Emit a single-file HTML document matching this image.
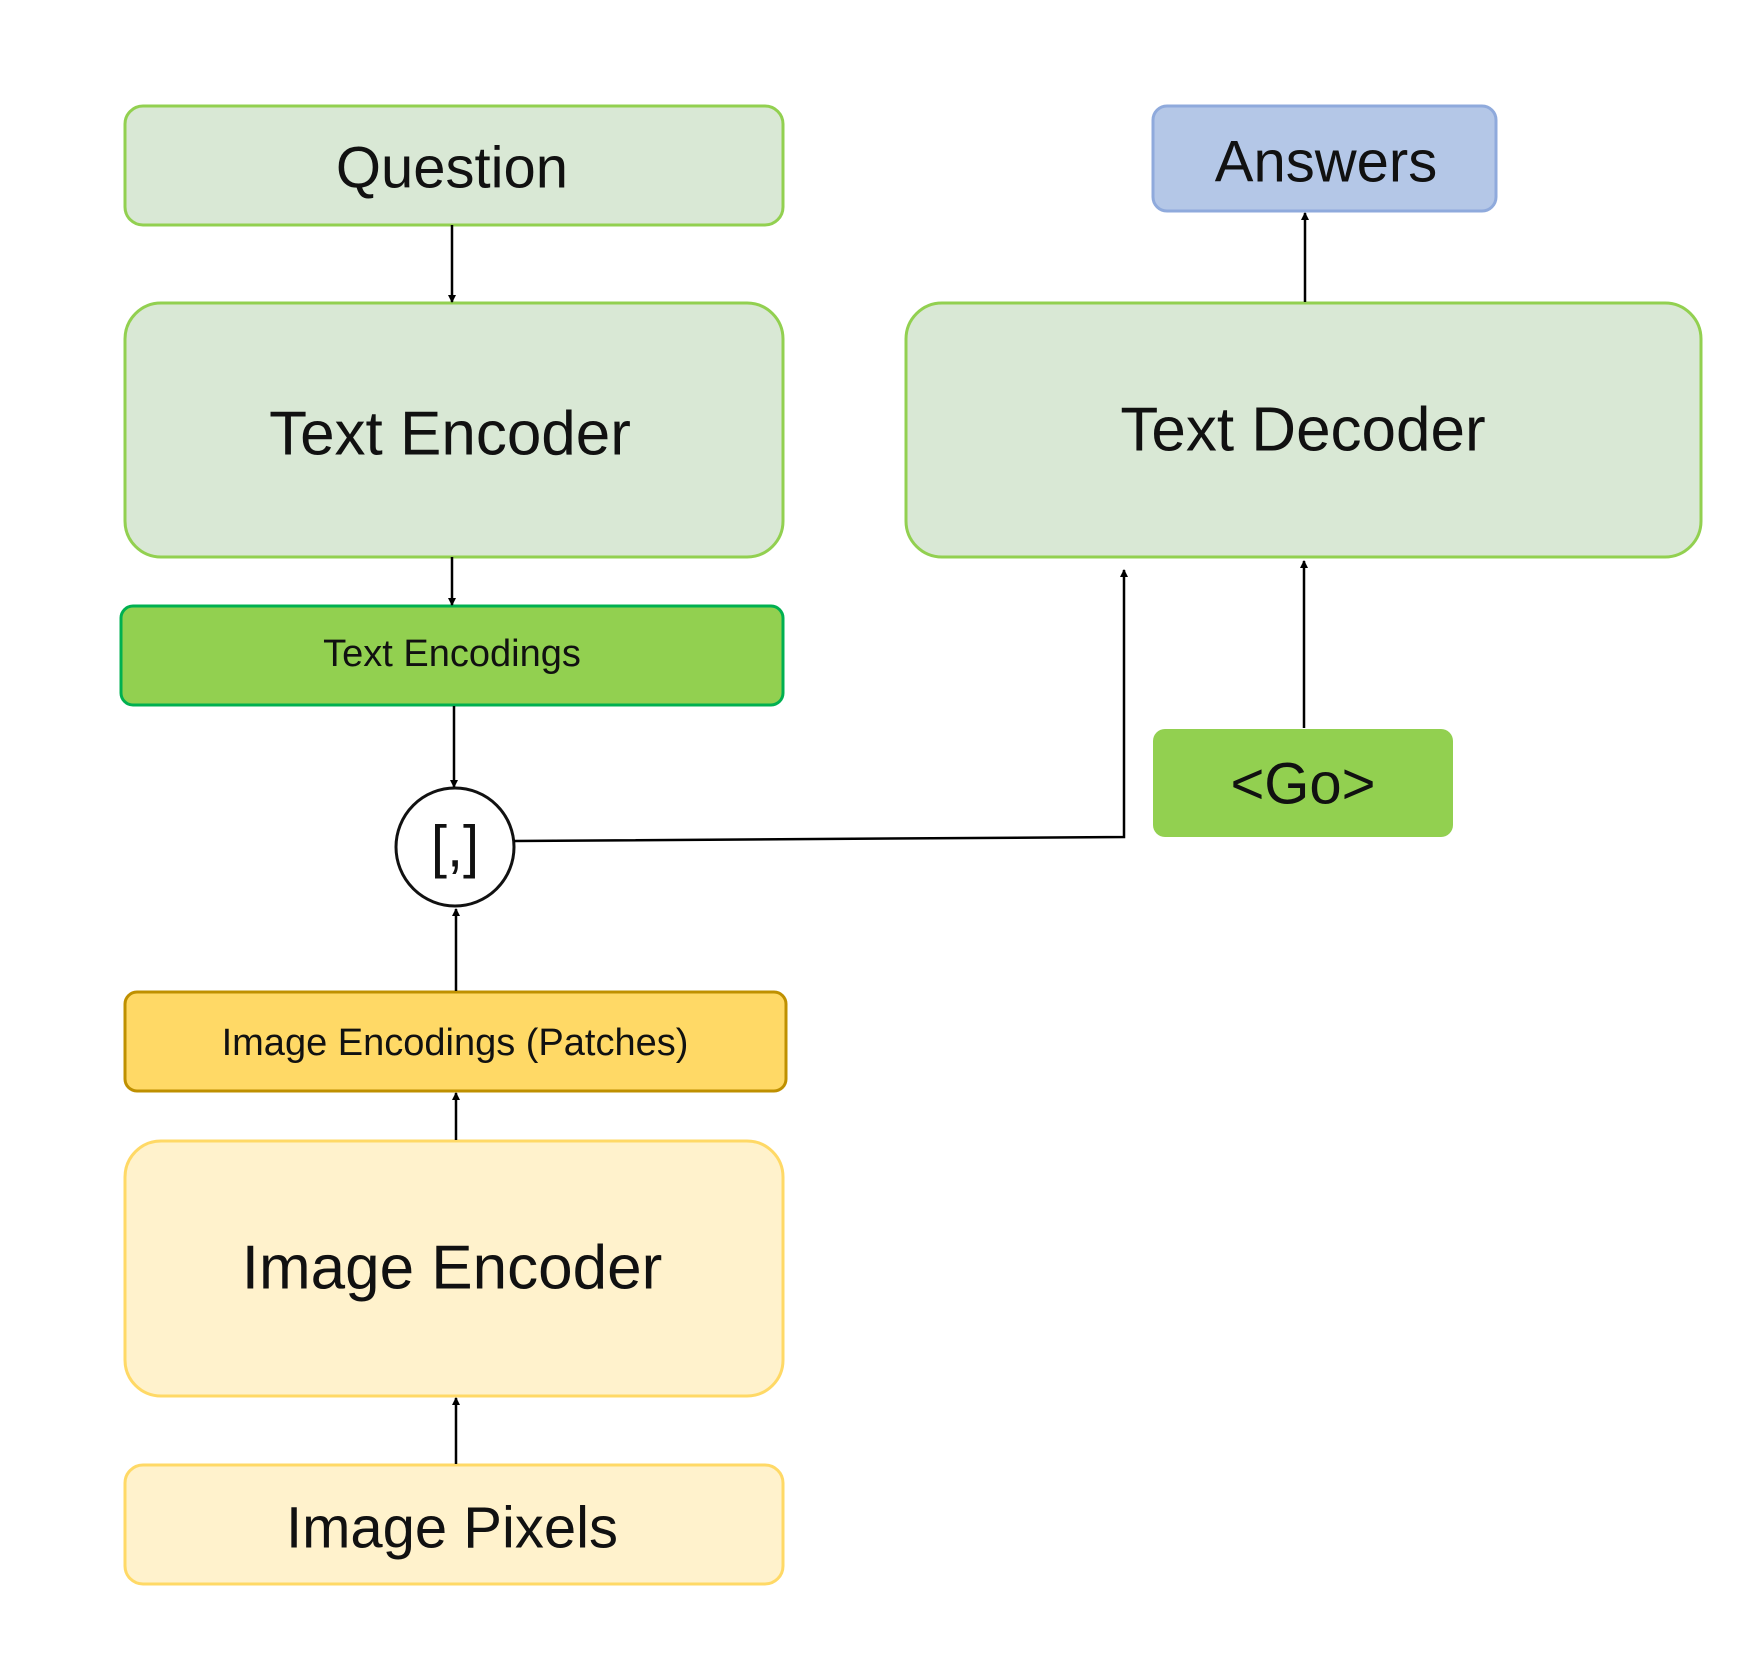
<!DOCTYPE html>
<html><head><meta charset="utf-8"><style>
html,body{margin:0;padding:0;background:#fff;}
svg text{font-family:"Liberation Sans",sans-serif;fill:#111;text-anchor:middle;dominant-baseline:central;}
</style></head><body>
<svg width="1761" height="1656" viewBox="0 0 1761 1656" xmlns="http://www.w3.org/2000/svg">
<defs><marker id="a" markerWidth="8" markerHeight="8" refX="7" refY="4" orient="auto" markerUnits="userSpaceOnUse"><path d="M0,0 L8,4 L0,8 z" fill="#000"/></marker></defs>
<rect x="125" y="106" width="658" height="119" rx="18" fill="#d9e8d5" stroke="#92d050" stroke-width="3"/>
<text x="452" y="168" font-size="58">Question</text>
<rect x="125" y="303" width="658" height="254" rx="36" fill="#d9e8d5" stroke="#92d050" stroke-width="3"/>
<text x="450" y="434" font-size="62">Text Encoder</text>
<rect x="121" y="606" width="662" height="99" rx="12" fill="#92d050" stroke="#00b050" stroke-width="3"/>
<text x="452" y="654" font-size="38">Text Encodings</text>
<circle cx="455" cy="847" r="59" fill="#fff" stroke="#111" stroke-width="3"/>
<text x="455" y="847" font-size="58">[,]</text>
<rect x="125" y="992" width="661" height="99" rx="12" fill="#ffd966" stroke="#bf9000" stroke-width="3"/>
<text x="455" y="1043" font-size="38">Image Encodings (Patches)</text>
<rect x="125" y="1141" width="658" height="255" rx="36" fill="#fff2cc" stroke="#ffd966" stroke-width="3"/>
<text x="452" y="1268" font-size="62">Image Encoder</text>
<rect x="125" y="1465" width="658" height="119" rx="18" fill="#fff2cc" stroke="#ffd966" stroke-width="3"/>
<text x="452" y="1528" font-size="58">Image Pixels</text>
<rect x="1153" y="106" width="343" height="105" rx="14" fill="#b4c7e7" stroke="#8faadc" stroke-width="3"/>
<text x="1326" y="162" font-size="58">Answers</text>
<rect x="906" y="303" width="795" height="254" rx="36" fill="#d9e8d5" stroke="#92d050" stroke-width="3"/>
<text x="1303" y="430" font-size="62">Text Decoder</text>
<rect x="1153" y="729" width="300" height="108" rx="12" fill="#92d050"/>
<text x="1303" y="784" font-size="58">&lt;Go&gt;</text>
<g stroke="#000" stroke-width="2.5" fill="none">
<line x1="452" y1="225" x2="452" y2="302" marker-end="url(#a)"/>
<line x1="452" y1="557" x2="452" y2="605" marker-end="url(#a)"/>
<line x1="454" y1="706" x2="454" y2="787" marker-end="url(#a)"/>
<line x1="456" y1="991" x2="456" y2="909" marker-end="url(#a)"/>
<line x1="456" y1="1140" x2="456" y2="1093" marker-end="url(#a)"/>
<line x1="456" y1="1464" x2="456" y2="1398" marker-end="url(#a)"/>
<polyline points="514,841 1124,837 1124,570" marker-end="url(#a)"/>
<line x1="1304" y1="728" x2="1304" y2="561" marker-end="url(#a)"/>
<line x1="1305" y1="302" x2="1305" y2="213" marker-end="url(#a)"/>
</g>
</svg>
</body></html>
